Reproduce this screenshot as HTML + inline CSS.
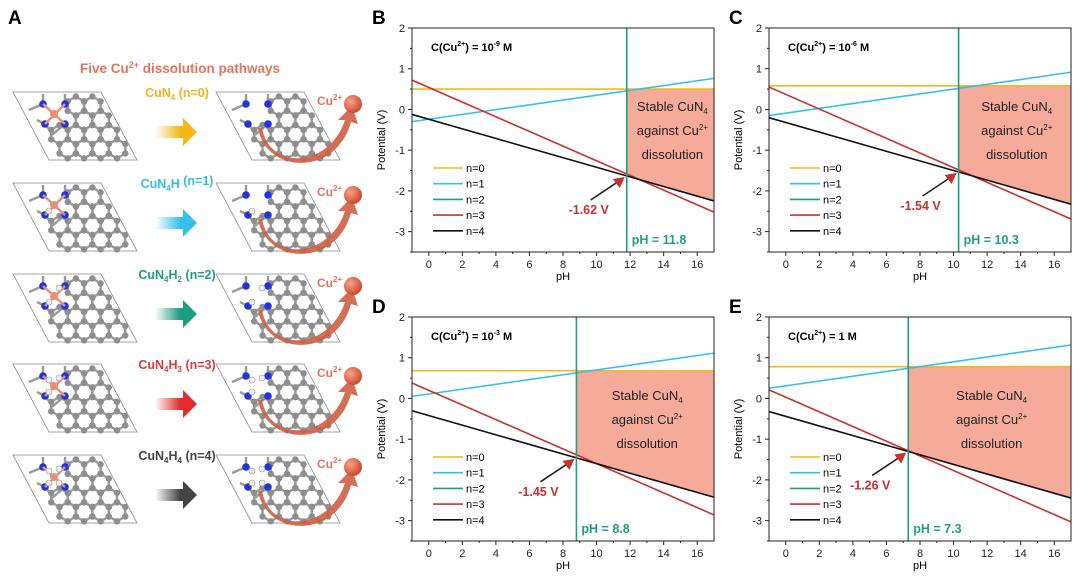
<!DOCTYPE html>
<html><head><meta charset="utf-8">
<style>
body{margin:0;background:#fff;}
svg{display:block;font-family:"Liberation Sans",Arial,sans-serif;}
</style></head>
<body>
<svg id="fig" width="1080" height="582" viewBox="0 0 1080 582" xmlns="http://www.w3.org/2000/svg">
<defs>
<linearGradient id="g0" x1="0" x2="1"><stop offset="0" stop-color="#fff"/><stop offset="0.6" stop-color="#f5b81c"/></linearGradient>
<linearGradient id="g1" x1="0" x2="1"><stop offset="0" stop-color="#fff"/><stop offset="0.6" stop-color="#35c0ea"/></linearGradient>
<linearGradient id="g2" x1="0" x2="1"><stop offset="0" stop-color="#fff"/><stop offset="0.6" stop-color="#1e9e80"/></linearGradient>
<linearGradient id="g3" x1="0" x2="1"><stop offset="0" stop-color="#fff"/><stop offset="0.6" stop-color="#e02c2c"/></linearGradient>
<linearGradient id="g4" x1="0" x2="1"><stop offset="0" stop-color="#fff"/><stop offset="0.6" stop-color="#444"/></linearGradient>
<radialGradient id="ball" cx="0.35" cy="0.35" r="0.7"><stop offset="0" stop-color="#f7a48a"/><stop offset="1" stop-color="#c9452a"/></radialGradient>
</defs>
<text x="8" y="24" font-size="19" font-weight="bold">A</text>
<text x="180" y="73" font-size="13.5" font-weight="bold" fill="#e8735c" text-anchor="middle">Five Cu<tspan font-size="9" dy="-5">2+</tspan><tspan dy="5"> dissolution pathways</tspan></text>
<g id="panelA"></g>
<g id="charts"></g>
</svg>
<script>
// ---- chart data ----
const panelLetters = ["B","C","D","E"];
const concLabels = ["10","10","10","1"];
const concExp = ["-9","-6","-3",""];
const n0Values = [0.50, 0.58, 0.68, 0.78];
const n1At0 = [-0.24, -0.09, 0.11, 0.31];
const n3At0 = [0.54, 0.37, 0.20, 0.03];
const n4At0 = [-0.24, -0.32, -0.42, -0.44];
const n1Slope = 0.059;
const n3Slope = -0.18;
const n4Slope = -0.118;
const pHMarks = [11.8, 10.3, 8.8, 7.3];
const crossLabels = ["-1.62 V","-1.54 V","-1.45 V","-1.26 V"];
const xTicks = [0,2,4,6,8,10,12,14,16];
const yTicks = [2,1,0,-1,-2,-3];
const legendLabels = ["n=0","n=1","n=2","n=3","n=4"];
const seriesColors = ["#f5b81c","#35c0ea","#1e9e80","#c8312f","#111"];

const NS="http://www.w3.org/2000/svg";
function mk(tag, attrs, parent){const e=document.createElementNS(NS,tag);for(const k in attrs)e.setAttribute(k,attrs[k]);parent.appendChild(e);return e;}

// ---- Panel A ----
const A=document.getElementById('panelA');
const rowTops=[92,183,274,364,455];
const labels=[["CuN","4","",""," (n=0)","#f0b41c"],["CuN","4","H",""," (n=1)","#35bde6"],["CuN","4","H","2"," (n=2)","#1e9e80"],["CuN","4","H","3"," (n=3)","#e03a3a"],["CuN","4","H","4"," (n=4)","#444"]];
function lattice(ox,oy,hasCu,nH,parent){
  const g=mk('g',{},parent);
  mk('polygon',{points:`${ox},${oy} ${ox+88},${oy} ${ox+124},${oy+68} ${ox+36},${oy+68}`,fill:'none',stroke:'#888','stroke-width':0.8},g);
  const R=9.5, dx=R*Math.sqrt(3);
  const pts=[];
  for(let r=0;r<4;r++)for(let c=-2;c<7;c++){
    const cx=ox+30+c*dx+r*dx/2, cy=oy+14+r*R*1.5;
    if(r<2&&c<2&&c>=-1)continue;
    const sh=(cy-oy)*36/68;
    if(cx<ox+sh+12||cx>ox+88+sh-10)continue;
    const p=[];
    for(let k=0;k<6;k++){const a=Math.PI/6+k*Math.PI/3;const x=cx+R*Math.cos(a),y=cy+R*Math.sin(a);pts.push([x,y]);p.push(x.toFixed(1)+','+y.toFixed(1));}
    mk('polygon',{points:p.join(' '),fill:'none',stroke:'#9a9a9a','stroke-width':2.4},g);
  }
  const nc=[[ox+30,oy+12],[ox+52,oy+12],[ox+32,oy+32],[ox+52,oy+32]];
  mk('path',{d:`M${ox+16},${oy+18} L${ox+30},${oy+12} L${ox+30},${oy+2} M${ox+52},${oy+2} L${ox+52},${oy+12} M${ox+24},${oy+28} L${ox+32},${oy+32} L${ox+40},${oy+42} L${ox+52},${oy+32}`,fill:'none',stroke:'#9a9a9a','stroke-width':2.4},g);
  pts.forEach(p=>mk('circle',{cx:p[0].toFixed(1),cy:p[1].toFixed(1),r:3.2,fill:'#8e8e8e'},g));
  nc.forEach(p=>mk('circle',{cx:p[0],cy:p[1],r:3.8,fill:'#2233dd'},g));
  if(hasCu){mk('path',{d:`M${nc[0][0]},${nc[0][1]} L${nc[3][0]},${nc[3][1]} M${nc[1][0]},${nc[1][1]} L${nc[2][0]},${nc[2][1]}`,stroke:'#e6907a','stroke-width':2.5},g);
    mk('circle',{cx:ox+41,cy:oy+22,r:4,fill:'#e6907a'},g);}
  const hp=[[ox+36,oy+28],[ox+46,oy+14],[ox+36,oy+16],[ox+46,oy+28]];
  for(let i=0;i<nH;i++)mk('circle',{cx:hp[i][0],cy:hp[i][1],r:3,fill:'#eee',stroke:'#999','stroke-width':0.6},g);
}
rowTops.forEach((t,i)=>{
  lattice(13,t,true,i,A);
  lattice(216,t,false,i,A);
  const L=labels[i];
  const tx=mk('text',{x:177,y:t+5,'font-size':12.5,'font-weight':'bold',fill:L[5],'text-anchor':'middle'},A);
  
  
  tx.innerHTML=`${L[0]}<tspan font-size="8" dy="3">${L[1]}</tspan><tspan dy="-3">${L[2]}</tspan><tspan font-size="8" dy="3">${L[3]}</tspan><tspan dy="-3">${L[4]}</tspan>`;
  const ar=mk('path',{d:`M155,${t+34} L183,${t+34} L183,${t+26} L197,${t+40} L183,${t+54} L183,${t+46} L155,${t+46} Z`,fill:`url(#g${i})`},A);
  
  
  mk('path',{d:`M262,${t+36} C270,${t+80} 330,${t+75} 345,${t+28} L338,${t+28} L352,${t+14} L358,${t+32} L351,${t+30} C336,${t+85} 266,${t+82} 258,${t+36} Z`,fill:'#cf5e45',opacity:0.9},A);
  const ct=mk('text',{x:317,y:t+13,'font-size':12,'font-weight':'bold',fill:'#e8735c'},A);
  ct.innerHTML='Cu<tspan font-size="8" dy="-5">2+</tspan>';
  
  
  mk('circle',{cx:353,cy:t+12,r:9,fill:'url(#ball)'},A);
});

// ---- Charts ----
const C=document.getElementById('charts');
const offsets=[[0,0],[357,0],[0,289],[357,289]];
panelLetters.forEach((letter,pi)=>{
  const [ox,oy]=offsets[pi];
  const L=412+ox,R=714+ox,T=28+oy,B=252+oy;
  const X=v=>L+(v+1)/18*(R-L);
  const Y=v=>T+(2-v)/5.5*(B-T);
  const g=mk('g',{},C);
  
  
  const pl=mk('text',{x:372+ox,y:24+oy,'font-size':19,'font-weight':'bold'},g);pl.textContent=letter;
  
  
  const n0=v=>n0Values[pi], n1=v=>n1At0[pi]+n1Slope*v, n3=v=>n3At0[pi]+n3Slope*v, n4=v=>n4At0[pi]+n4Slope*v;
  const pm=pHMarks[pi];
  const pts=[];
  pts.push(`${X(pm)},${Y(n0Values[pi])}`,`${X(17)},${Y(n0Values[pi])}`);
  for(let k=40;k>=0;k--){const v=pm+(17-pm)*k/40;pts.push(`${X(v).toFixed(1)},${Y(Math.max(n3(v),n4(v))).toFixed(1)}`);}
  const sh=mk('polygon',{points:pts.join(' '),fill:'#f6aa9a'},g);
  
  
  const fns=[n0,n1,null,n3,n4];
  fns.forEach((f,si)=>{ if(!f)return;
    const ln=mk('line',{x1:X(-1),y1:Y(f(-1)),x2:X(17),y2:Y(f(17)),stroke:seriesColors[si],'stroke-width':1.6},g);
    
    
  });
  const vl=mk('line',{x1:X(pm),y1:T,x2:X(pm),y2:B,stroke:'#1e9e80','stroke-width':1.6},g);
  
  
  mk('rect',{x:L,y:T,width:R-L,height:B-T,fill:'none',stroke:'#222','stroke-width':1},g);
  xTicks.forEach(v=>{mk('line',{x1:X(v),y1:B,x2:X(v),y2:B+4,stroke:'#222'},g);
    if(v<16)mk('line',{x1:X(v+1),y1:B,x2:X(v+1),y2:B+2,stroke:'#222'},g);
    const t=mk('text',{x:X(v),y:B+16,'font-size':11,'text-anchor':'middle',fill:'#222'},g);t.textContent=v;
    
    });
  yTicks.forEach(v=>{mk('line',{x1:L-4,y1:Y(v),x2:L,y2:Y(v),stroke:'#222'},g);
    mk('line',{x1:L-2,y1:Y(v-0.5),x2:L,y2:Y(v-0.5),stroke:'#222'},g);
    const t=mk('text',{x:L-7,y:Y(v)+4,'font-size':11,'text-anchor':'end',fill:'#222'},g);t.textContent=v;
    
    });
  const xt=mk('text',{x:(L+R)/2,y:B+28,'font-size':11,'text-anchor':'middle'},g);xt.textContent='pH';
  
  
  const yt=mk('text',{x:0,y:0,'font-size':11,'text-anchor':'middle',transform:`translate(${L-27},${(T+B)/2}) rotate(-90)`},g);yt.textContent='Potential (V)';
  
  
  const ct=mk('text',{x:L+19,y:T+23,'font-size':11,'font-weight':'bold'},g);
  ct.innerHTML=concExp[pi]?`C(Cu<tspan font-size="7" dy="-5">2+</tspan><tspan dy="5">) = ${concLabels[pi]}</tspan><tspan font-size="7" dy="-5">${concExp[pi]}</tspan><tspan dy="5"> M</tspan>`:`C(Cu<tspan font-size="7" dy="-5">2+</tspan><tspan dy="5">) = 1 M</tspan>`;
  
  
  legendLabels.forEach((lab,si)=>{const yy=T+140+si*15.7;
    mk('line',{x1:L+21,y1:yy,x2:L+51,y2:yy,stroke:seriesColors[si],'stroke-width':1.6},g);
    const t=mk('text',{x:L+54,y:yy+4,'font-size':11},g);t.textContent=lab;
    
    });
  const cx=(X(pm)+R)/2+2;
  const s1=mk('text',{x:cx,y:T+83,'font-size':13,'text-anchor':'middle',fill:'#222'},g);
  s1.innerHTML='Stable CuN<tspan font-size="8" dy="3">4</tspan>';
  
  
  const s2=mk('text',{x:cx,y:T+107,'font-size':13,'text-anchor':'middle',fill:'#222'},g);
  s2.innerHTML='against Cu<tspan font-size="8" dy="-5">2+</tspan>';
  const s3=mk('text',{x:cx,y:T+131,'font-size':13,'text-anchor':'middle',fill:'#222'},g);s3.textContent='dissolution';
  const px=X(pm),py=Y(n4(pm));
  mk('line',{x1:px-36,y1:py+24,x2:px-9,y2:py+6,stroke:'#222','stroke-width':1.6},g);
  mk('polygon',{points:`${px-2},${py+1} ${px-14},${py+3} ${px-7},${py+12}`,fill:'#c8312f'},g);
  const cl=mk('text',{x:px-38,y:py+38,'font-size':12.5,'font-weight':'bold','text-anchor':'middle',fill:'#c8312f'},g);cl.textContent=crossLabels[pi];
  
  
  const ph=mk('text',{x:px+5,y:B-8,'font-size':12.5,'font-weight':'bold',fill:'#1e9e80'},g);ph.textContent='pH = '+pm;
  
  
});
</script>
</body></html>
